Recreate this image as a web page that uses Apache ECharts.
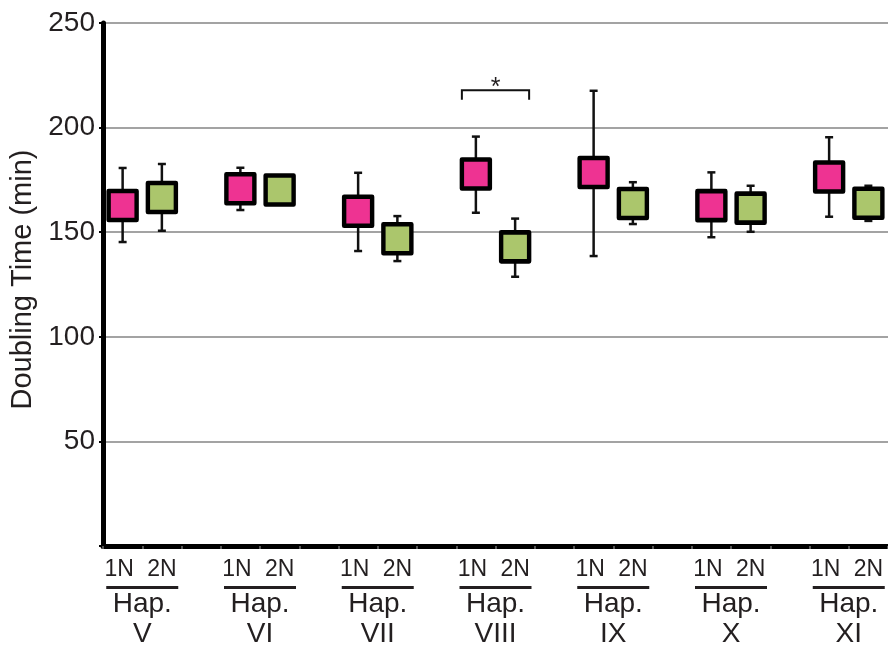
<!DOCTYPE html>
<html>
<head>
<meta charset="utf-8">
<script src="https://cdn.jsdelivr.net/npm/echarts@6/dist/echarts.min.js"></script>
<style>html,body{margin:0;padding:0;background:#fff}#c{width:888px;height:654px}</style>
</head>
<body>
<div id="c"></div>
<script>
// ---- data ----
const groups = ['V', 'VI', 'VII', 'VIII', 'IX', 'X', 'XI'];
const xCategories = ['1N','2N','', '1N','2N','', '1N','2N','', '1N','2N','', '1N','2N','', '1N','2N','', '1N','2N'];
const mean1N = [162.8, 170.8, 160.0, 177.8, 178.5, 162.7, 176.4];
const high1N = [180.7, 180.8, 178.4, 195.7, 217.6, 178.6, 195.4];
const low1N  = [145.3, 160.6, 141.0, 159.3, 138.6, 147.6, 157.4];
const mean2N = [166.6, 170.2, 146.9, 143.0, 163.7, 161.5, 163.8];
const high2N = [182.6, 173.0, 157.7, 156.5, 173.9, 172.2, 172.2];
const low2N  = [150.7, 167.0, 136.2, 128.7, 153.9, 150.2, 155.4];
const yTicks = [0, 50, 100, 150, 200, 250];
// significance bracket: group index, bracket level, bracket end level
const sigGroup = [3];
const sigTop = [217.8];
const sigEnd = [213.3];

const FONT = 'Liberation Sans, Arial, Helvetica, sans-serif';
const TXT = '#231f20';
const PINK = '#ee3392';
const GREEN = '#abc66c';

const idx1N = groups.map((g, i) => i * 3);
const idx2N = groups.map((g, i) => i * 3 + 1);
const groupCenters = groups.map((g, i) => i * 3 + 0.5);

function errData(idx, hi, lo) { return idx.map((x, i) => [x, hi[i], lo[i]]); }
function ptData(idx, m) { return idx.map((x, i) => [x, m[i]]); }

function errRender(params, api) {
  const x = api.value(0);
  const p1 = api.coord([x, api.value(1)]);
  const p2 = api.coord([x, api.value(2)]);
  const cw = 4;
  const st = { stroke: '#111', lineWidth: 2.5 };
  return {
    type: 'group',
    children: [
      { type: 'line', shape: { x1: p1[0], y1: p1[1], x2: p2[0], y2: p2[1] }, style: st },
      { type: 'line', shape: { x1: p1[0] - cw, y1: p1[1], x2: p1[0] + cw, y2: p1[1] }, style: st },
      { type: 'line', shape: { x1: p2[0] - cw, y1: p2[1], x2: p2[0] + cw, y2: p2[1] }, style: st }
    ]
  };
}

const chart = echarts.init(document.getElementById('c'), null, { renderer: 'canvas' });
chart.setOption({
  animation: false,
  backgroundColor: '#fff',
  grid: { left: 103, right: 0, top: 23, bottom: 108, containLabel: false },
  xAxis: [
    {
      type: 'category',
      data: xCategories,
      boundaryGap: true,
      axisLine: { show: true, onZero: false, lineStyle: { color: '#000', width: 5 } },
      axisTick: { show: true, interval: 0, length: 3, lineStyle: { color: '#555', width: 2 } },
      axisLabel: {
        interval: 0, margin: 12, fontSize: 23, fontFamily: FONT, color: TXT,
        formatter: v => (v === '1N' ? '{a|' + v + '}' : v),
        rich: { a: { fontSize: 23, fontFamily: FONT, color: TXT, padding: [0, 7, 0, 0] } }
      },
      splitLine: { show: false }
    },
    {
      type: 'value',
      position: 'bottom',
      min: -0.5,
      max: 19.5,
      axisLine: { show: false, onZero: false },
      axisTick: { show: false },
      splitLine: { show: false },
      axisLabel: {
        customValues: groupCenters,
        margin: 40,
        formatter: function (v) {
          const gi = Math.round((v - 0.5) / 3);
          return '{line|}\n{hap|Hap.}\n{num|' + groups[gi] + '}';
        },
        rich: {
          line: { width: 72, height: 3, lineHeight: 3, backgroundColor: '#231f20', align: 'center' },
          hap: { fontSize: 28, lineHeight: 30, fontFamily: FONT, color: TXT, align: 'center' },
          num: { fontSize: 28, lineHeight: 31, fontFamily: FONT, color: TXT, align: 'center' }
        }
      }
    }
  ],
  yAxis: {
    type: 'value',
    min: yTicks[0],
    max: yTicks[yTicks.length - 1],
    interval: 50,
    name: 'Doubling Time (min)',
    nameLocation: 'middle',
    nameGap: 60,
    nameTextStyle: { fontSize: 29, fontFamily: FONT, color: TXT, padding: [0, 0, 0, 10] },
    axisLine: { show: true, onZero: false, lineStyle: { color: '#000', width: 5 } },
    axisTick: { show: true, length: 4, lineStyle: { color: '#000', width: 2 } },
    axisLabel: {
      margin: 8, fontSize: 28, fontFamily: FONT, color: TXT,
      formatter: v => (v === 0 ? '' : String(v))
    },
    splitLine: { show: true, lineStyle: { color: '#a3a3a3', width: 2 } }
  },
  series: [
    { type: 'custom', name: 'err1N', xAxisIndex: 0, data: errData(idx1N, high1N, low1N), renderItem: errRender, z: 2 },
    { type: 'custom', name: 'err2N', xAxisIndex: 0, data: errData(idx2N, high2N, low2N), renderItem: errRender, z: 2 },
    {
      type: 'scatter', name: '1N', xAxisIndex: 0, data: ptData(idx1N, mean1N), symbol: 'rect', symbolSize: [28, 29], z: 3,
      itemStyle: { color: PINK, borderColor: '#000', borderWidth: 4.5, borderJoin: 'round', opacity: 1 }
    },
    {
      type: 'scatter', name: '2N', xAxisIndex: 0, data: ptData(idx2N, mean2N), symbol: 'rect', symbolSize: [28, 29], z: 3,
      itemStyle: { color: GREEN, borderColor: '#000', borderWidth: 4.5, borderJoin: 'round', opacity: 1 }
    },
    {
      type: 'custom', name: 'sig', xAxisIndex: 0, z: 4,
      data: sigGroup.map((g, i) => [g * 3, g * 3 + 1, sigTop[i], sigEnd[i]]),
      renderItem: function (params, api) {
        const a = api.coord([api.value(0), api.value(2)]);
        const b = api.coord([api.value(1), api.value(2)]);
        const e = api.coord([api.value(0), api.value(3)]);
        const pad = 14;
        const st = { stroke: '#111', lineWidth: 2, fill: null };
        return {
          type: 'group',
          children: [
            { type: 'polyline', shape: { points: [[a[0] - pad, e[1]], [a[0] - pad, a[1]], [b[0] + pad, b[1]], [b[0] + pad, e[1]]] }, style: st },
            { type: 'text', x: (a[0] + b[0]) / 2, y: a[1] + 10, style: { text: '*', fontSize: 25, fontFamily: FONT, fill: TXT, align: 'center', verticalAlign: 'bottom' } }
          ]
        };
      }
    }
  ]
});
</script>
</body>
</html>
